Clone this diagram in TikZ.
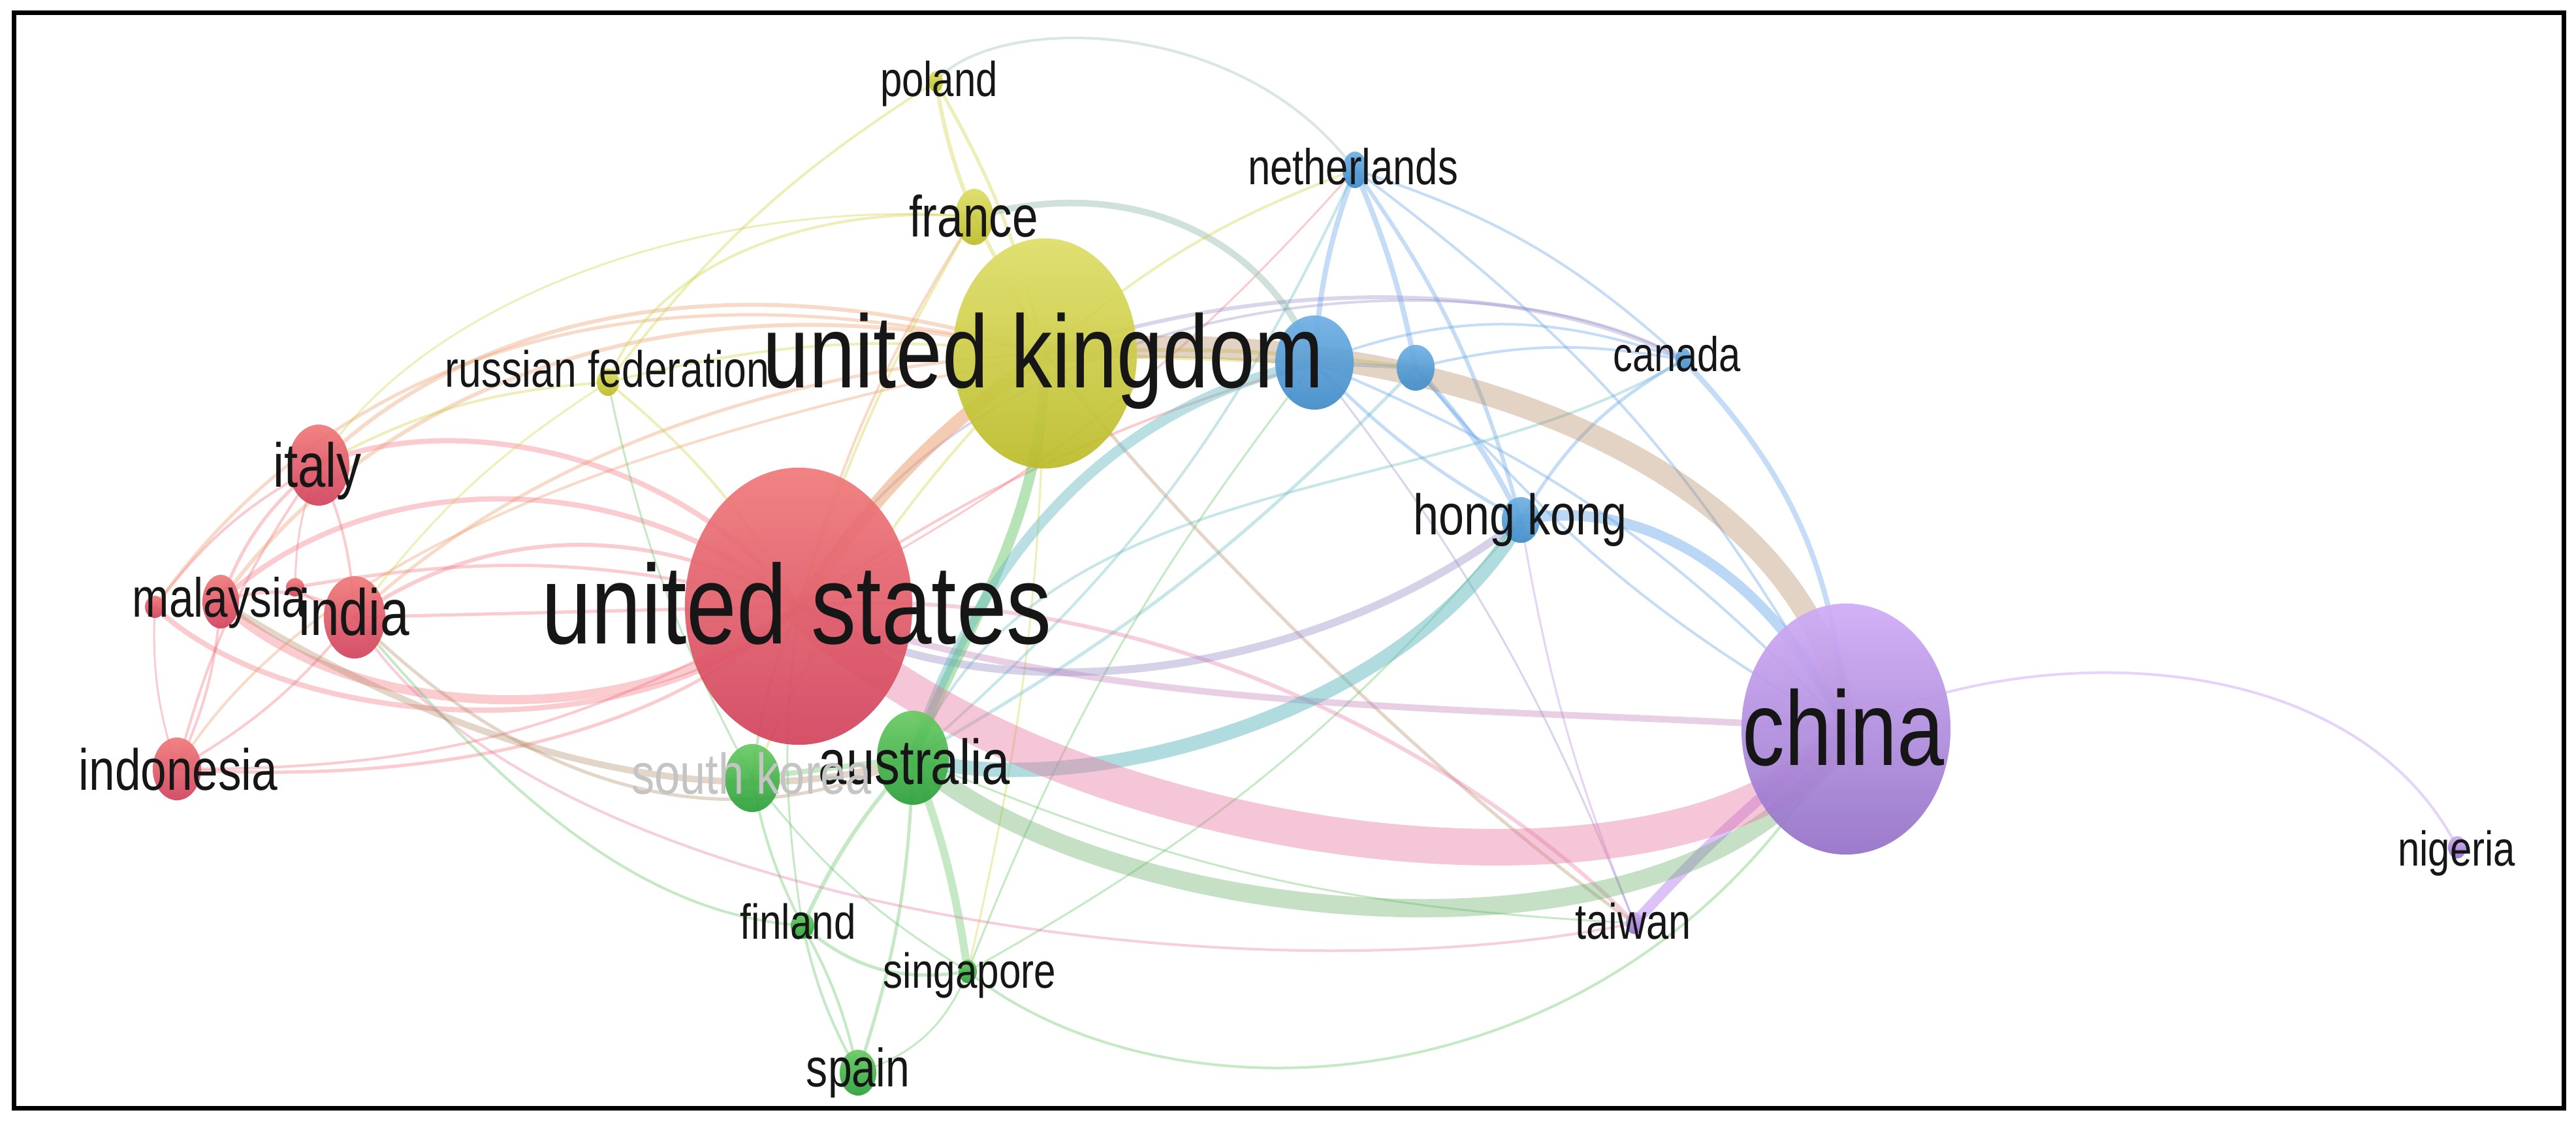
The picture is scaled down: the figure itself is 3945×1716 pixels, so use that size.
\documentclass[tikz,border=0pt]{standalone}
\usepackage{fontspec}
\setmainfont{Liberation Sans}[FakeStretch=0.8]
\usetikzlibrary{shapes.geometric}
\pgfdeclarelayer{paper}
\pgfdeclarelayer{edges}
\pgfsetlayers{paper,edges,main}
\definecolor{rT}{RGB}{240,122,122}
\definecolor{rB}{RGB}{210,68,94}
\definecolor{yT}{RGB}{222,222,105}
\definecolor{yB}{RGB}{188,188,42}
\definecolor{gT}{RGB}{105,202,98}
\definecolor{gB}{RGB}{44,160,60}
\definecolor{bT}{RGB}{112,176,228}
\definecolor{bB}{RGB}{64,140,200}
\definecolor{pT}{RGB}{208,172,246}
\definecolor{pB}{RGB}{148,114,200}
\definecolor{eR}{RGB}{242,112,124}
\definecolor{eO}{RGB}{234,155,105}
\definecolor{eY}{RGB}{208,208,60}
\definecolor{eG}{RGB}{96,196,96}
\definecolor{eGg}{RGB}{106,175,106}
\definecolor{eT}{RGB}{100,186,192}
\definecolor{eB}{RGB}{92,160,232}
\definecolor{eP}{RGB}{186,134,240}
\definecolor{eK}{RGB}{232,120,160}
\definecolor{eN}{RGB}{180,140,100}
\definecolor{eM}{RGB}{190,120,180}
\definecolor{eV}{RGB}{150,140,200}
\definecolor{eL}{RGB}{150,190,170}
\definecolor{txt}{RGB}{22,22,22}
\definecolor{faint}{RGB}{196,196,196}
\begin{document}
\begin{tikzpicture}[x=0.01cm,y=-0.01cm,
  ell/.style 2 args={ellipse, minimum width=#1*0.02cm, minimum height=#2*0.02cm, inner sep=0pt, draw=none},
  nR/.style={top color=rT, bottom color=rB, fill opacity=0.93},
  nY/.style={top color=yT, bottom color=yB, fill opacity=0.93},
  nG/.style={top color=gT, bottom color=gB, fill opacity=0.93},
  nB/.style={top color=bT, bottom color=bB, fill opacity=0.93},
  nP/.style={top color=pT, bottom color=pB, fill opacity=0.93},
  lab/.style={anchor=base, text=txt, inner sep=0pt, font=\fontsize{#1}{#1}\selectfont},
  ed/.style 2 args={draw=#1, line width=#2*0.01cm, draw opacity=0.36, line cap=round},
  band/.style n args={3}{draw=#1, line width=#2*0.01cm, draw opacity=#3}
]
\useasboundingbox (0,0) rectangle (3945,1716);
\begin{pgfonlayer}{paper}
\fill[white] (0,0) rectangle (3945,1716);
\end{pgfonlayer}

% ---------- nodes ----------
\node[ell={174}{212}, nR] (us) at (1223,928) {};
\node[ell={141}{176}, nY] (uk) at (1600,541) {};
\node[ell={160}{192}, nP] (china) at (2827,1116) {};
\node[ell={55}{72}, nG] (aus) at (1398,1160) {};
\node[ell={42}{52}, nG] (skor) at (1152,1191) {};
\node[ell={47}{62}, nR] (italy) at (488,712) {};
\node[ell={47}{63}, nR] (india) at (543,945) {};
\node[ell={28}{41}, nR] (malay) at (338,921) {};
\node[ell={15}{17}, nR] (r1) at (237,929) {};
\node[ell={14}{14}, nR] (r2) at (452,899) {};
\node[ell={37}{48}, nR] (indo) at (271,1177) {};
\node[ell={17}{21}, nY] (russ) at (931,585) {};
\node[ell={29}{43}, nY] (france) at (1492,332) {};
\node[ell={11}{16}, nY] (poland) at (1433,125) {};
\node[ell={19}{28}, nB] (neth) at (2075,260) {};
\node[ell={60}{72}, nB] (blA) at (2013,555) {};
\node[ell={29}{35}, nB] (blB) at (2168,563) {};
\node[ell={12}{18}, nB] (canada) at (2578,551) {};
\node[ell={29}{35}, nB] (hk) at (2329,796) {};
\node[ell={13}{17}, nP] (taiwan) at (2503,1413) {};
\node[ell={14}{17}, nP] (nigeria) at (3763,1297) {};
\node[ell={18}{20}, nG] (finland) at (1229,1417) {};
\node[ell={14}{18}, nG] (sing) at (1482,1487) {};
\node[ell={28}{35}, nG] (spain) at (1314,1642) {};

% ---------- edges ----------
\begin{pgfonlayer}{edges}
% red cluster
\draw[ed={eR}{8}] (us.center) .. controls (1050,700) and (700,620) .. (italy.center);
\draw[ed={eR}{6}] (us.center) .. controls (1000,800) and (750,800) .. (india.center);
\draw[ed={eR}{5}] (us.center) -- (india.center);
\draw[ed={eR}{14}] (us.center) .. controls (1000,1120) and (550,1120) .. (malay.center);
\draw[ed={eR}{8}] (us.center) .. controls (1000,1150) and (450,1130) .. (r1.center);
\draw[ed={eR}{8}] (us.center) .. controls (950,700) and (550,720) .. (malay.center);
\draw[ed={eR}{5}] (us.center) to[bend right=12] (r2.center);
\draw[ed={eR}{5}] (us.center) .. controls (1000,1150) and (600,1200) .. (indo.center);
\draw[ed={eR}{5}] (italy.center) to[bend right=15] (malay.center);
\draw[ed={eR}{4}] (italy.center) to[bend left=10] (india.center);
\draw[ed={eR}{4}] (italy.center) to[bend right=10] (indo.center);
\draw[ed={eR}{4}] (italy.center) to[bend right=12] (r1.center);
\draw[ed={eR}{4}] (malay.center) to[bend left=10] (indo.center);
\draw[ed={eR}{4}] (india.center) to[bend left=10] (indo.center);
\draw[ed={eR}{3}] (r1.center) to[bend right=10] (indo.center);
\draw[ed={eR}{5}] (india.center) to[bend right=25] (malay.center);
\draw[ed={eR}{3}] (r2.center) to[bend left=10] (italy.center);
\draw[ed={eR}{3}] (r2.center) to[bend right=10] (india.center);
\draw[ed={eR}{4}] (indo.center) to[bend right=15] (us.center);
\draw[ed={eR}{3}] (us.center) to[bend right=10] (neth.center);
\draw[ed={eR}{4}] (us.center) to[bend left=8] (blA.center);
\draw[ed={eN}{5}] (india.center) .. controls (800,1200) and (1100,1300) .. (aus.center);
\draw[ed={eN}{10}] (malay.center) .. controls (700,1150) and (1100,1260) .. (aus.center);
\draw[ed={eG}{4}] (india.center) .. controls (800,1250) and (1000,1400) .. (finland.center);
% arcs to uk
\draw[ed={eO}{6}] (italy.center) .. controls (700,500) and (1100,380) .. (uk.center);
\draw[ed={eO}{6}] (malay.center) .. controls (550,620) and (1000,400) .. (uk.center);
\draw[ed={eO}{5}] (r1.center) .. controls (500,560) and (950,380) .. (uk.center);
\draw[ed={eO}{5}] (india.center) .. controls (800,700) and (1200,560) .. (uk.center);
\draw[ed={eO}{4}] (indo.center) .. controls (500,800) and (1100,650) .. (uk.center);
\draw[ed={eO}{4}] (us.center) to[bend left=8] (france.center);
% yellow cluster
\draw[ed={eY}{4}] (russ.center) to[bend left=10] (uk.center);
\draw[ed={eY}{4}] (russ.center) to[bend left=10] (us.center);
\draw[ed={eY}{4}] (russ.center) to[bend right=12] (italy.center);
\draw[ed={eY}{3}] (russ.center) to[bend right=10] (india.center);
\draw[ed={eG}{3}] (russ.center) to[bend right=8] (skor.center);
\draw[ed={eY}{6}] (france.center) -- (uk.center);
\draw[ed={eY}{6}] (poland.center) to[bend right=6] (france.center);
\draw[ed={eY}{4}] (poland.center) to[bend right=10] (russ.center);
\draw[ed={eY}{5}] (poland.center) to[bend left=8] (uk.center);
\draw[ed={eY}{4}] (france.center) .. controls (1250,310) and (1000,400) .. (russ.center);
\draw[ed={eY}{3}] (france.center) .. controls (1100,300) and (650,450) .. (italy.center);
\draw[ed={eY}{4}] (france.center) to[bend right=6] (us.center);
\draw[band={eL}{10}{0.45}] (france.center) .. controls (1750,260) and (1950,380) .. (blA.center);
\draw[ed={eY}{6}] (uk.center) -- (blA.center);
\draw[ed={eY}{6}] (uk.center) to[bend left=5] (blB.center);
\draw[ed={eN}{5}] (uk.center) .. controls (1800,800) and (2200,1200) .. (taiwan.center);
\draw[ed={eV}{6}] (uk.center) .. controls (1950,420) and (2350,430) .. (canada.center);
\draw[ed={eY}{4}] (uk.center) to[bend left=10] (neth.center);
\draw[ed={eY}{4}] (uk.center) to[bend right=10] (skor.center);
\draw[ed={eY}{3}] (uk.center) to[bend left=6] (sing.center);
% green cluster
\draw[ed={eG}{8}] (aus.center) -- (skor.center);
\draw[ed={eG}{12}] (aus.center) to[bend left=6] (sing.center);
\draw[ed={eG}{6}] (aus.center) to[bend right=8] (finland.center);
\draw[ed={eG}{5}] (aus.center) to[bend left=8] (spain.center);
\draw[ed={eG}{4}] (finland.center) to[bend left=8] (spain.center);
\draw[ed={eG}{4}] (finland.center) to[bend right=8] (spain.center);
\draw[ed={eG}{5}] (finland.center) to[bend right=25] (sing.center);
\draw[ed={eG}{3}] (sing.center) to[bend left=25] (spain.center);
\draw[ed={eG}{4}] (skor.center) to[bend right=8] (finland.center);
\draw[ed={eG}{4}] (skor.center) to[bend left=8] (us.center);
\draw[ed={eG}{3}] (skor.center) to[bend right=10] (sing.center);
\draw[ed={eT}{4}] (aus.center) to[bend right=12] (neth.center);
\draw[ed={eT}{5}] (aus.center) to[bend right=8] (blB.center);
\draw[ed={eT}{4}] (aus.center) .. controls (1600,700) and (2200,780) .. (canada.center);
\draw[ed={eG}{4}] (sing.center) .. controls (1800,1740) and (2500,1700) .. (china.center);
\draw[ed={eG}{3}] (sing.center) to[bend right=10] (hk.center);
\draw[ed={eG}{3}] (sing.center) to[bend left=8] (blA.center);
\draw[ed={eG}{3}] (finland.center) to[bend left=8] (us.center);
\draw[ed={eG}{3}] (aus.center) to[bend right=10] (taiwan.center);
% blue cluster
\draw[ed={eB}{8}] (neth.center) to[bend right=8] (blA.center);
\draw[ed={eB}{8}] (neth.center) to[bend left=6] (blB.center);
\draw[ed={eB}{6}] (neth.center) to[bend left=10] (hk.center);
\draw[ed={eB}{4}] (neth.center) to[bend left=12] (china.center);
\draw[ed={eB}{4}] (neth.center) to[bend left=12] (canada.center);
\draw[ed={eB}{6}] (blA.center) -- (blB.center);
\draw[ed={eB}{5}] (blA.center) to[bend right=8] (hk.center);
\draw[ed={eB}{8}] (blB.center) to[bend left=8] (hk.center);
\draw[ed={eB}{4}] (blB.center) to[bend right=10] (china.center);
\draw[ed={eB}{4}] (blA.center) to[bend left=20] (canada.center);
\draw[ed={eB}{4}] (blB.center) to[bend left=12] (canada.center);
\draw[ed={eB}{8}] (canada.center) to[bend left=20] (china.center);
\draw[ed={eB}{5}] (canada.center) to[bend right=15] (hk.center);
\draw[ed={eV}{3}] (blA.center) to[bend left=8] (taiwan.center);
\draw[ed={eP}{3}] (hk.center) to[bend right=6] (taiwan.center);
\draw[ed={eB}{4}] (blA.center) to[bend left=12] (china.center);
\draw[ed={eV}{4}] (us.center) .. controls (1500,420) and (2300,380) .. (canada.center);
\draw[ed={eL}{4}] (poland.center) .. controls (1520,20) and (1900,20) .. (neth.center);
% purple
\draw[ed={eP}{4}] (china.center) .. controls (3100,980) and (3600,980) .. (nigeria.center);
\draw[ed={eK}{6}] (us.center) .. controls (1800,880) and (2300,1200) .. (taiwan.center);
\draw[ed={eK}{4}] (india.center) .. controls (800,1380) and (1900,1540) .. (taiwan.center);
% major bands
\draw[band={eM}{10}{0.35}] (us.center) .. controls (1700,1100) and (2300,1080) .. (china.center);
\draw[band={eV}{12}{0.4}] (us.center) .. controls (1500,1100) and (2000,1050) .. (hk.center);
\draw[band={eO}{20}{0.5}] (us.center) to[bend left=10] (uk.center);
\draw[band={eG}{16}{0.45}] (aus.center) .. controls (1480,950) and (1600,800) .. (uk.center);
\draw[band={eT}{16}{0.45}] (aus.center) .. controls (1500,850) and (1700,620) .. (blA.center);
\draw[band={eT}{22}{0.5}] (aus.center) .. controls (1650,1230) and (2150,1100) .. (hk.center);
\draw[band={eB}{16}{0.42}] (hk.center) .. controls (2500,760) and (2700,860) .. (china.center);
\draw[band={eP}{16}{0.5}] (taiwan.center) to[bend left=5] (china.center);
\draw[band={eN}{34}{0.38}] (uk.center) .. controls (2150,480) and (2780,700) .. (china.center);
\draw[band={eGg}{28}{0.38}] (aus.center) .. controls (1700,1430) and (2625,1518) .. (china.center);
\draw[band={eK}{56}{0.42}] (us.center) .. controls (1650,1330) and (2620,1420) .. (china.center);
\end{pgfonlayer}

% ---------- labels ----------
\node[lab=49pt] (l-us) at (1220,986) {united states};
\node[lab=45pt] (l-uk) at (1598,594) {united kingdom};
\node[lab=46pt] (l-china) at (2823,1172) {china};
\node[lab=27.6pt] (l-aus) at (1400,1200) {australia};
\node[lab=25pt, text=faint] (l-skor) at (1151,1215) {south korea};
\node[lab=27pt] (l-italy) at (486,746) {italy};
\node[lab=28.5pt] (l-india) at (542,972) {india};
\node[lab=24pt] (l-malay) at (336,945) {malaysia};
\node[lab=25.3pt] (l-indo) at (273,1209) {indonesia};
\node[lab=22.2pt] (l-russ) at (930,593) {russian federation};
\node[lab=25.3pt] (l-france) at (1491,363) {france};
\node[lab=21.3pt] (l-poland) at (1438,148) {poland};
\node[lab=21.9pt] (l-neth) at (2072,283) {netherlands};
\node[lab=21.2pt] (l-canada) at (2568,569) {canada};
\node[lab=24.9pt] (l-hk) at (2328,819) {hong kong};
\node[lab=21.8pt] (l-taiwan) at (2501,1437) {taiwan};
\node[lab=21.3pt] (l-nigeria) at (3762,1325) {nigeria};
\node[lab=21.4pt] (l-finland) at (1222,1437) {finland};
\node[lab=21.4pt] (l-sing) at (1485,1512) {singapore};
\node[lab=23.5pt] (l-spain) at (1314,1663) {spain};

% frame
\draw[line width=0.07cm] (21.5,19.5) rectangle (3926.5,1696.5);
\end{tikzpicture}
\end{document}
